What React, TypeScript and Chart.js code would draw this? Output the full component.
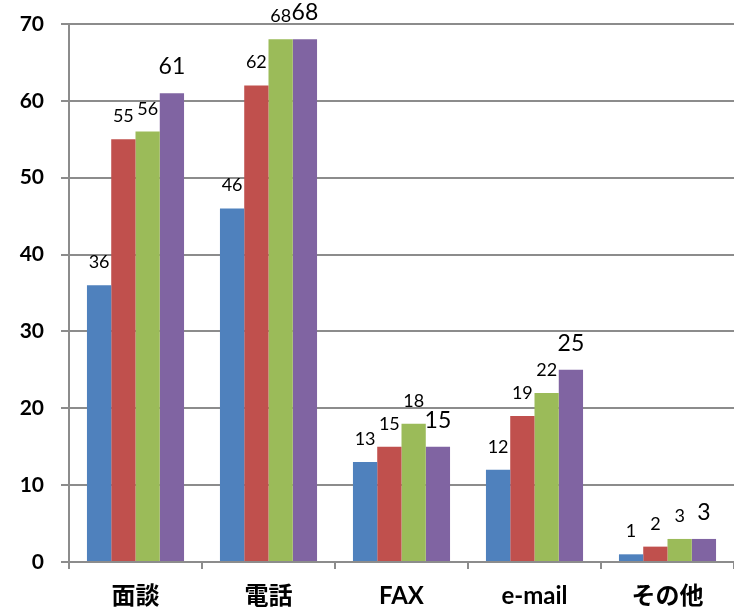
import React, { useEffect, useRef } from "react";
import { Chart, registerables } from "chart.js";

Chart.register(...registerables);

const categories = ["面談", "電話", "FAX", "e-mail", "その他"];
const series1 = [36, 46, 13, 12, 1];
const series2 = [55, 62, 15, 19, 2];
const series3 = [56, 68, 18, 22, 3];
const series4 = [61, 68, 15, 25, 3];
const seriesNames = ["系列1", "系列2", "系列3", "系列4"];
const colors = ["#4F81BD", "#C0504D", "#9BBB59", "#8064A2"];

const labelPlugin = {
  id: "valueLabels",
  afterDatasetsDraw(chart: any) {
    const ctx = chart.ctx;
    ctx.save();
    ctx.textAlign = "center";
    ctx.textBaseline = "alphabetic";
    ctx.fillStyle = "#000";
    chart.data.datasets.forEach((ds: any, i: number) => {
      const meta = chart.getDatasetMeta(i);
      const size = i === 3 ? 23 : 18;
      ctx.font = `${size}px Lato, "Open Sans", sans-serif`;
      meta.data.forEach((bar: any, j: number) => {
        ctx.fillText(String(ds.data[j]), bar.x, bar.y - (i === 3 ? 19 : 17));
      });
    });
    ctx.restore();
  },
};

export default function App() {
  const ref = useRef<HTMLCanvasElement>(null);
  useEffect(() => {
    const data = [series1, series2, series3, series4];
    const chart = new Chart(ref.current!, {
      type: "bar",
      data: {
        labels: categories,
        datasets: data.map((d, i) => ({
          label: seriesNames[i],
          data: d,
          backgroundColor: colors[i],
          borderWidth: 0,
          barPercentage: 1,
          categoryPercentage: 0.73,
        })),
      },
      options: {
        animation: false,
        responsive: false,
        layout: { padding: { top: 24, right: 0, left: 0, bottom: 0 } },
        plugins: { legend: { display: false }, tooltip: { enabled: false } },
        scales: {
          x: {
            grid: {
              offset: true,
              drawOnChartArea: false,
              color: "#8c8c8c",
              lineWidth: 2,
              tickLength: 7,
            },
            border: { color: "#8c8c8c", width: 2 },
            ticks: {
              color: "#000",
              padding: 13,
              font: { family: 'Lato, "Noto Sans CJK JP", sans-serif', size: 24, weight: "bold" },
            },
            afterFit: (s: any) => {
              s.height = 51;
              s.paddingLeft = 0;
              s.paddingRight = 0;
            },
          },
          y: {
            min: 0,
            max: 70,
            grid: { color: "#8c8c8c", lineWidth: 2, tickLength: 8 },
            border: { color: "#8c8c8c", width: 2 },
            ticks: {
              stepSize: 10,
              color: "#000",
              padding: 17,
              font: { family: 'Lato, "Noto Sans", sans-serif', size: 21, weight: "bold" },
            },
            afterFit: (s: any) => {
              s.width = 69;
              s.paddingTop = 0;
              s.paddingBottom = 0;
            },
          },
        },
      },
      plugins: [labelPlugin],
    });
    return () => chart.destroy();
  }, []);
  return (
    <div style={{ position: "fixed", left: 0, top: 0, width: 734, height: 613, background: "#fff" }}>
      <canvas ref={ref} width={734} height={613} style={{ display: "block" }} />
    </div>
  );
}
